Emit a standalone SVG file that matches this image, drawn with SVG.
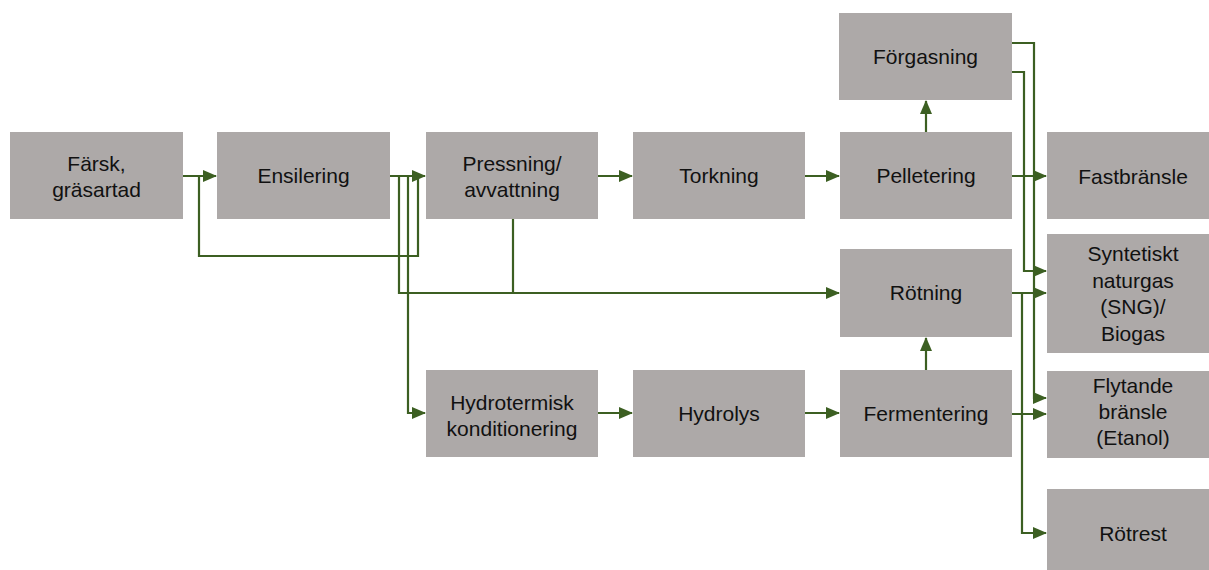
<svg xmlns="http://www.w3.org/2000/svg" width="1209" height="570" viewBox="0 0 1209 570">
<style>
.b{fill:#ADA9A8}
.t{font-family:"Liberation Sans",Arial,sans-serif;font-size:21px;fill:#111;text-anchor:middle}
.c{fill:none;stroke:#3C5F22;stroke-width:2.2}
</style>
<defs>
<marker id="a" markerUnits="userSpaceOnUse" markerWidth="14" markerHeight="12" refX="13" refY="6" orient="auto"><path d="M0,0 L14,6 L0,12 Z" fill="#3C5F22"/></marker>
</defs>
<rect width="1209" height="570" fill="#fff"/>
<g id="connectors">
<path class="c" d="M183,176 H216" marker-end="url(#a)"/>
<path class="c" d="M418,176 V256 H199 V176"/>
<path class="c" d="M390,176 H425" marker-end="url(#a)"/>
<path class="c" d="M399,176 V293 H839" marker-end="url(#a)"/>
<path class="c" d="M408,176 V413 H425" marker-end="url(#a)"/>
<path class="c" d="M513,219 V293"/>
<path class="c" d="M598,176 H632" marker-end="url(#a)"/>
<path class="c" d="M805,176 H839" marker-end="url(#a)"/>
<path class="c" d="M926,132 V101" marker-end="url(#a)"/>
<path class="c" d="M1012,176 H1046" marker-end="url(#a)"/>
<path class="c" d="M1012,43 H1034 V398 H1046" marker-end="url(#a)"/>
<path class="c" d="M1012,72 H1024 V271 H1046" marker-end="url(#a)"/>
<path class="c" d="M1012,293 H1046" marker-end="url(#a)"/>
<path class="c" d="M1022,293 V533 H1046" marker-end="url(#a)"/>
<path class="c" d="M1012,414 H1046" marker-end="url(#a)"/>
<path class="c" d="M926,370 V338" marker-end="url(#a)"/>
<path class="c" d="M598,413 H632" marker-end="url(#a)"/>
<path class="c" d="M805,413 H839" marker-end="url(#a)"/>
</g>
<g id="farsk"><rect class="b" x="10" y="132" width="173" height="87"/><text class="t" x="96.5" y="171">Färsk,</text><text class="t" x="96.5" y="197">gräsartad</text></g>
<g id="ensilering"><rect class="b" x="217" y="132" width="173" height="87"/><text class="t" x="303.5" y="183">Ensilering</text></g>
<g id="pressning"><rect class="b" x="426" y="132" width="172" height="87"/><text class="t" x="512" y="171">Pressning/</text><text class="t" x="512" y="197">avvattning</text></g>
<g id="torkning"><rect class="b" x="633" y="132" width="172" height="87"/><text class="t" x="719" y="183">Torkning</text></g>
<g id="pelletering"><rect class="b" x="840" y="132" width="172" height="87"/><text class="t" x="926" y="183">Pelletering</text></g>
<g id="forgasning"><rect class="b" x="839" y="13" width="173" height="87"/><text class="t" x="925.5" y="64">Förgasning</text></g>
<g id="fastbransle"><rect class="b" x="1047" y="132" width="172" height="87"/><text class="t" x="1133" y="184">Fastbränsle</text></g>
<g id="sng"><rect class="b" x="1047" y="234" width="172" height="119"/><text class="t" x="1133" y="261">Syntetiskt</text><text class="t" x="1133" y="288">naturgas</text><text class="t" x="1133" y="314">(SNG)/</text><text class="t" x="1133" y="341">Biogas</text></g>
<g id="rotning"><rect class="b" x="840" y="249" width="172" height="88"/><text class="t" x="926" y="300">Rötning</text></g>
<g id="flytande"><rect class="b" x="1047" y="371" width="172" height="87"/><text class="t" x="1133" y="393">Flytande</text><text class="t" x="1133" y="419">bränsle</text><text class="t" x="1133" y="445">(Etanol)</text></g>
<g id="hydrotermisk"><rect class="b" x="426" y="370" width="172" height="87"/><text class="t" x="512" y="410">Hydrotermisk</text><text class="t" x="512" y="436">konditionering</text></g>
<g id="hydrolys"><rect class="b" x="633" y="370" width="172" height="87"/><text class="t" x="719" y="421">Hydrolys</text></g>
<g id="fermentering"><rect class="b" x="840" y="370" width="172" height="87"/><text class="t" x="926" y="421">Fermentering</text></g>
<g id="rotrest"><rect class="b" x="1047" y="489" width="172" height="81"/><text class="t" x="1133" y="541">Rötrest</text></g>
</svg>
